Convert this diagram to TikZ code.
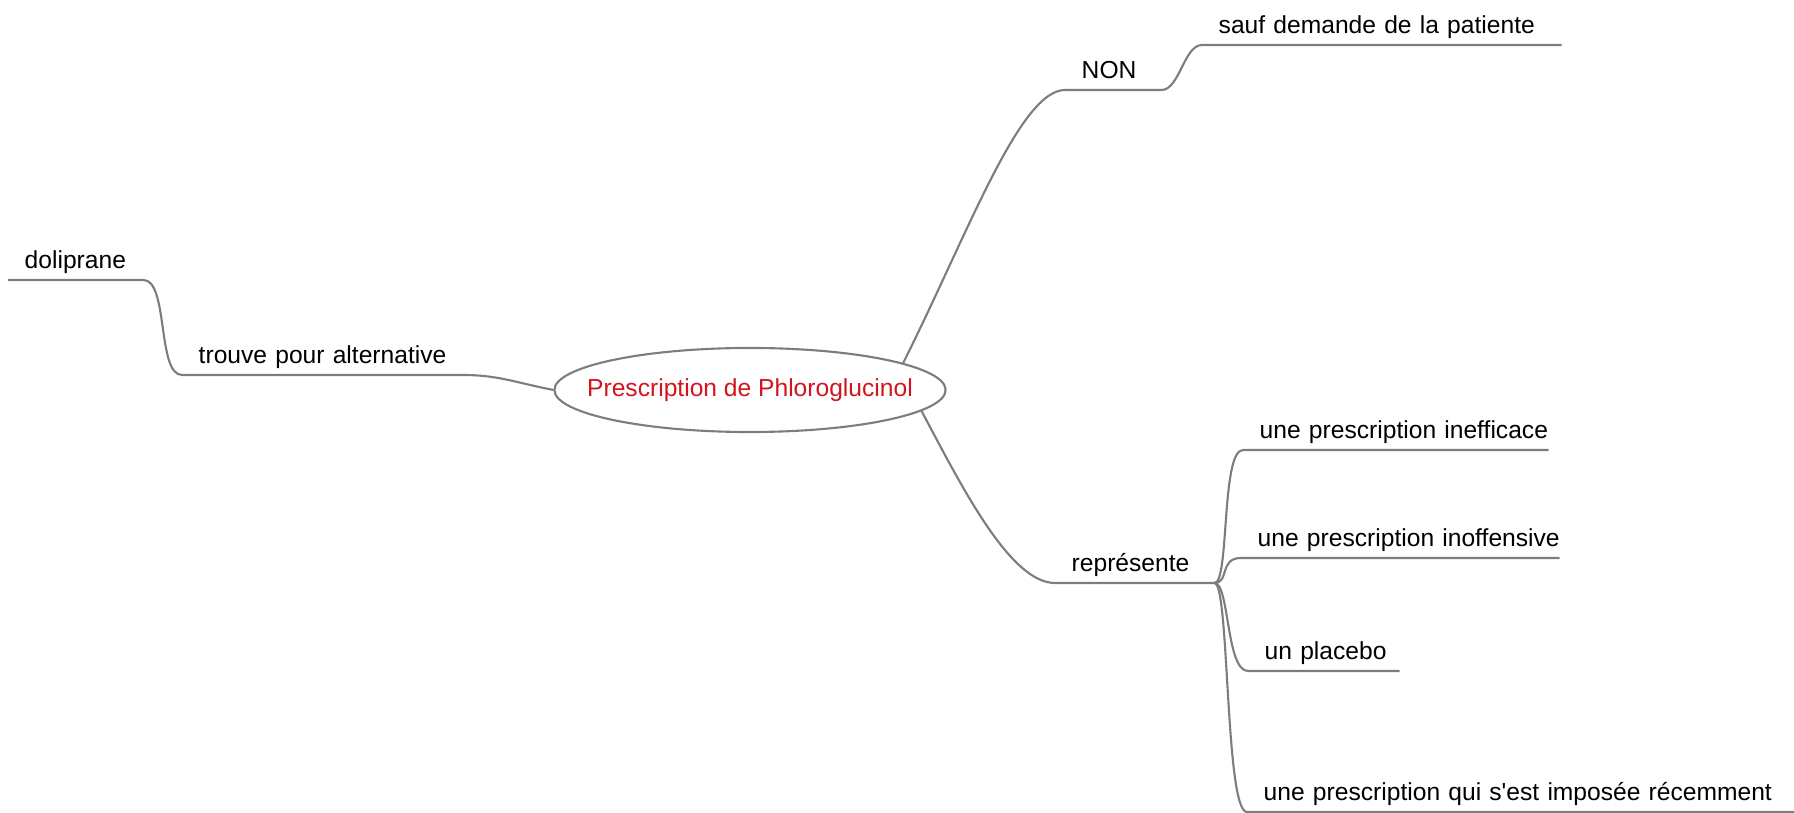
\documentclass[tikz,border=0pt]{standalone}
\usepackage{fontspec}
\setmainfont{Liberation Sans}
\usepackage{tikz}
\usetikzlibrary{shapes.geometric}
\definecolor{branchgray}{RGB}{125,125,125}
\definecolor{rootred}{RGB}{210,20,30}
\tikzstyle{topic}=[anchor=south west, inner xsep=1.6mm, inner ysep=1.1mm, text height=1.8mm, text depth=0pt, align=left,
      font=\fontsize{7pt}{8.5pt}\selectfont, execute at begin node=\hbox\bgroup, execute at end node=\egroup]
\tikzset{branch/.style={draw=branchgray, line width=0.6pt},
      root/.style={ellipse, draw=branchgray, line width=0.6pt, minimum width=3.91cm, minimum height=0.84cm,
      inner sep=0pt, text=rootred, font=\fontsize{7pt}{8.5pt}\selectfont,
      execute at begin node=\hbox to 0pt\bgroup\hss, execute at end node=\hss\egroup}}

\begin{document}
\begin{tikzpicture}[x=0.01cm, y=-0.01cm]
		\useasboundingbox (0,0) rectangle (1794,813);
		\node[root] (phloro) at (750,390) {Prescription de Phloroglucinol};
		\node[topic, text width=1.02cm] (doli) at (8,280) {doliprane};
		\node[topic, text width=2.47cm] (alt) at (182,375) {trouve pour alternative};
		\node[topic, text width=0.63cm] (non) at (1065,90) {NON};
		\node[topic, text width=3.26cm] (sauf) at (1202,45) {sauf demande de la patiente};
		\node[topic, text width=1.26cm] (repr) at (1055,583) {représente};
		\node[topic, text width=2.72cm] (ineff) at (1243,450) {une prescription inefficace};
		\node[topic, text width=2.85cm] (inoff) at (1241,558) {une prescription inoffensive};
		\node[topic, text width=1.18cm] (placebo) at (1248,671) {un placebo};
		\node[topic, text width=5.15cm] (recent) at (1247,812) {une prescription qui s\textquotesingle est imposée récemment};
		\draw[branch] (doli.south west) -- (doli.south east) .. controls +(25,0) and +(-25,0) .. (alt.south west)
			-- (alt.south east) .. controls +(35,0) and +(-40,-8) .. (phloro.west);
		\draw[branch] (phloro.10) .. controls +(65,-130) and +(-45,0) .. (non.south west) -- (non.south east)
			.. controls +(18,0) and +(-18,0) .. (sauf.south west) -- (sauf.south east);
		\draw[branch] (phloro.-7) .. controls +(40,75) and +(-45,0) .. (repr.south west) -- (repr.south east);
		\foreach \n in {ineff,inoff,placebo,recent}
			\draw[branch] (repr.south east) .. controls +(15,0) and +(-22,0) .. (\n.south west) -- (\n.south east);
		\end{tikzpicture}
\end{document}
